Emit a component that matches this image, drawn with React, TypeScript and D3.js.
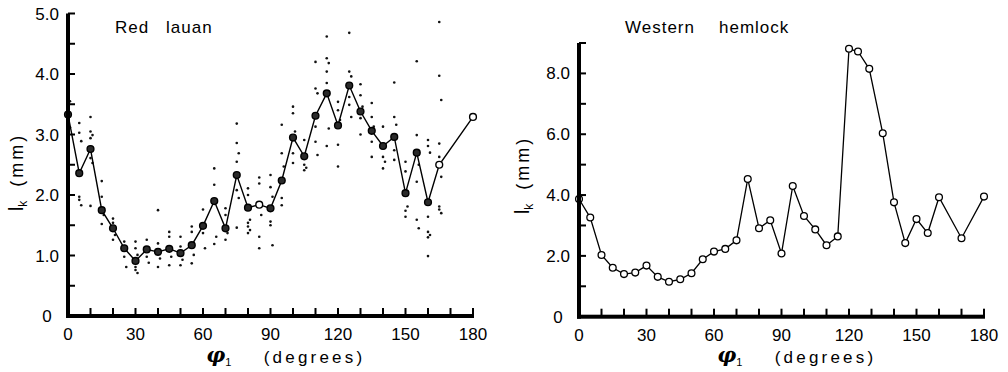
import React from "react";
import * as d3 from "d3";

// ---- Data ----
const redAngles = [0, 5, 10, 15, 20, 25, 30, 35, 40, 45, 50, 55, 60, 65, 70, 75, 80, 85, 90, 95, 100, 105, 110, 115, 120, 125, 130, 135, 140, 145, 150, 155, 160, 165, 180];
const redMeans = [3.33, 2.36, 2.76, 1.75, 1.45, 1.12, 0.91, 1.1, 1.06, 1.11, 1.04, 1.17, 1.49, 1.9, 1.45, 2.33, 1.79, 1.84, 1.78, 2.24, 2.95, 2.64, 3.31, 3.68, 3.15, 3.81, 3.38, 3.06, 2.81, 2.96, 2.03, 2.7, 1.88, 2.5, 3.29];
const redOpen = [85, 165, 180];

const redScatterAngles = [0, 5, 10, 15, 20, 25, 30, 35, 40, 45, 50, 55, 60, 65, 70, 75, 80, 85, 90, 95, 100, 105, 110, 115, 120, 125, 130, 135, 140, 145, 150, 155, 160, 165];
const redScatterValues = [
  [3.72, 3.64, 3.55, 3.46, 3.2, 3.12, 3.05, 2.98],
  [3.19, 3.03, 2.89, 1.97, 1.92, 1.83],
  [3.29, 3.05, 2.99, 2.94, 2.61, 2.53, 1.82],
  [2.23, 1.97, 1.67, 1.52],
  [1.61, 1.54, 1.34, 1.26],
  [1.23, 0.98, 0.81],
  [1.23, 1.12, 1.01, 0.81, 0.76, 0.71],
  [1.26, 0.98, 0.88],
  [1.75, 1.2, 0.95, 0.81],
  [1.39, 1.31, 0.98, 0.84],
  [1.31, 1.15, 0.93, 0.84],
  [1.48, 1.39, 1.01, 0.87],
  [1.76, 1.37, 1.12],
  [2.44, 2.17, 1.31, 1.19],
  [1.78, 1.67, 1.37, 1.26],
  [3.18, 2.86, 2.69, 2.55, 2.08, 1.95, 1.46],
  [2.11, 2.0, 1.59, 1.54, 1.48, 1.42, 1.37],
  [2.29, 2.19, 1.67, 1.31, 1.12],
  [2.33, 2.13, 1.97, 1.56, 1.5, 1.17],
  [3.16, 2.69, 2.47, 1.95, 1.83],
  [3.46, 3.35, 3.05, 2.69, 2.53],
  [2.91, 2.5, 2.45, 2.41],
  [4.2, 3.76, 3.68, 3.13, 2.88, 2.66],
  [4.62, 4.26, 4.18, 4.04, 3.85, 3.1, 2.81],
  [3.54, 3.4, 3.24, 2.83, 2.47],
  [4.68, 4.04, 3.96, 3.62, 3.49, 3.29],
  [3.83, 3.65, 3.46, 3.27, 3.0],
  [3.52, 3.29, 3.13, 2.88, 2.63],
  [3.13, 2.63, 2.55, 2.44],
  [3.86, 3.29, 3.16, 2.74, 2.58],
  [2.55, 2.39, 1.81, 1.74, 1.64],
  [4.21, 2.99, 2.5, 2.22, 1.59, 1.45],
  [2.91, 2.81, 2.7, 1.64, 1.39, 1.34, 1.3, 0.99],
  [4.86, 3.97, 3.57, 2.85, 2.63, 2.3, 1.81, 1.76, 1.7],
];

const hemAngles = [0, 5, 10, 15, 20, 25, 30, 35, 40, 45, 50, 55, 60, 65, 70, 75, 80, 85, 90, 95, 100, 105, 110, 115, 120, 124, 129, 135, 140, 145, 150, 155, 160, 170, 180];
const hemValues = [3.87, 3.26, 2.03, 1.61, 1.4, 1.45, 1.68, 1.31, 1.15, 1.23, 1.43, 1.89, 2.14, 2.23, 2.51, 4.53, 2.91, 3.17, 2.08, 4.3, 3.31, 2.87, 2.35, 2.64, 8.81, 8.72, 8.15, 6.03, 3.76, 2.42, 3.21, 2.75, 3.93, 2.58, 3.95];

const xTickLabels = [0, 30, 60, 90, 120, 150, 180];
const redYTickLabels = [0, 1, 2, 3, 4, 5];
const hemYTickLabels = [0, 2, 4, 6, 8];

const FONT = "'Liberation Sans', Arial, sans-serif";

type Scale = d3.ScaleLinear<number, number>;

function axes(id: string, x: Scale, y: Scale, yMax: number, yStep: number, yLabels: number[]) {
  const [x0, x1] = x.range();
  const yBottom = y(0);
  const yTop = y(yMax);
  const out: React.ReactNode[] = [];
  out.push(<rect key={id + "ya"} x={x0 - 2} y={yTop} width={4} height={yBottom - yTop + 2} fill="#000" />);
  out.push(<rect key={id + "xa"} x={x0 - 2} y={yBottom - 2} width={x1 - x0 + 3} height={4} fill="#000" />);
  d3.range(0, 181, 10).forEach((t) => {
    out.push(<rect key={id + "xt" + t} x={x(t) - 1} y={yBottom - 8} width={2} height={8} fill="#000" />);
  });
  d3.range(0, yMax + 1e-9, yStep).forEach((t) => {
    out.push(<rect key={id + "yt" + t} x={x0} y={y(t) - 1} width={7} height={2} fill="#000" />);
  });
  xTickLabels.forEach((t) => {
    out.push(
      <text key={id + "xl" + t} x={x(t)} y={yBottom + 24} textAnchor="middle" fontFamily={FONT} fontSize={17} fill="#000">
        {t}
      </text>
    );
  });
  yLabels.forEach((t) => {
    out.push(
      <text key={id + "yl" + t} x={t === 0 ? x0 - 21 : x0 - 9} y={y(t) + 6} textAnchor={t === 0 ? "middle" : "end"} fontFamily={FONT} fontSize={17} fill="#000">
        {t === 0 ? "0" : t.toFixed(1)}
      </text>
    );
  });
  out.push(
    <text key={id + "phi"} x={x(67)} y={362} textAnchor="middle" fontFamily="'DejaVu Serif', serif" fontStyle="italic" fontWeight="bold" fontSize={21} fill="#000">
      φ<tspan fontSize={11} dy={4} fontStyle="normal" fontWeight="normal" fontFamily={FONT}>1</tspan>
    </text>
  );
  out.push(
    <text key={id + "deg"} x={x(87)} y={363} fontFamily={FONT} fontSize={17} letterSpacing={3.2} fill="#000">(degrees)</text>
  );
  return out;
}

function yTitle(id: string, cx: number, cy: number) {
  return (
    <g key={id + "ytitle"} transform={`translate(${cx},${cy}) rotate(-90)`}>
      <text x={0} y={0} textAnchor="middle" fontFamily={FONT} fontSize={18} fill="#000">
        <tspan fontSize={21}>l</tspan>
        <tspan fontSize={12} dy={4}>k</tspan>
        <tspan dy={-4} dx={14} letterSpacing={3}>(mm)</tspan>
      </text>
    </g>
  );
}

export default function App() {
  const xL = d3.scaleLinear().domain([0, 180]).range([68, 473]);
  const yL = d3.scaleLinear().domain([0, 5]).range([316, 13.5]);
  const xR = d3.scaleLinear().domain([0, 180]).range([579, 984]);
  const yR = d3.scaleLinear().domain([0, 9]).range([316.7, 43]);

  const lineL = d3.line<number>().x((_, i) => xL(redAngles[i])).y((d) => yL(d));
  const lineR = d3.line<number>().x((_, i) => xR(hemAngles[i])).y((d) => yR(d));

  return (
    <svg width={1008} height={372} style={{ position: "absolute", left: 0, top: 0, background: "#fff" }}>
      {redScatterAngles.map((a, i) =>
        redScatterValues[i].map((v, j) => (
          <circle key={`s${i}-${j}`} cx={xL(a) + (j % 3 === 2 ? 2 : 0)} cy={yL(v)} r={1.3} fill="#111" />
        ))
      )}
      <path d={lineL(redMeans) || ""} fill="none" stroke="#000" strokeWidth={1.4} />
      {redMeans.map((v, i) => {
        const open = redOpen.includes(redAngles[i]);
        return (
          <circle key={"m" + i} cx={xL(redAngles[i])} cy={yL(v)} r={3.4} fill={open ? "#fff" : "#2a2a2a"} stroke="#000" strokeWidth={1.4} />
        );
      })}
      {axes("L", xL, yL, 5, 0.5, redYTickLabels)}
      {yTitle("L", 23, 172)}
      <text x={115} y={33} fontFamily={FONT} fontSize={17} letterSpacing={1} fill="#000">Red</text>
      <text x={166} y={33} fontFamily={FONT} fontSize={17} letterSpacing={1} fill="#000">lauan</text>

      <path d={lineR(hemValues) || ""} fill="none" stroke="#000" strokeWidth={1.3} />
      {hemValues.map((v, i) => (
        <circle key={"h" + i} cx={xR(hemAngles[i])} cy={yR(v)} r={3.4} fill="#fff" stroke="#000" strokeWidth={1.3} />
      ))}
      {axes("R", xR, yR, 9, 1, hemYTickLabels)}
      {yTitle("R", 529, 175)}
      <text x={625} y={33} fontFamily={FONT} fontSize={17} letterSpacing={1} fill="#000">Western</text>
      <text x={719} y={33} fontFamily={FONT} fontSize={17} letterSpacing={1} fill="#000">hemlock</text>
    </svg>
  );
}
